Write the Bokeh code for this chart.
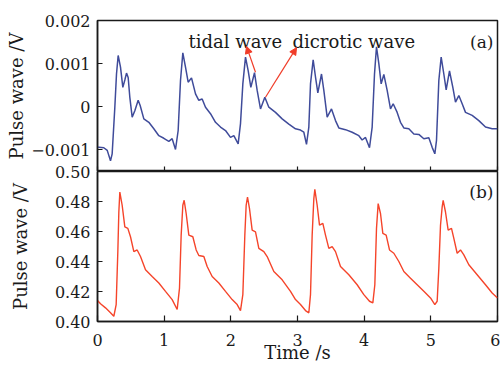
from bokeh.plotting import figure
from bokeh.layouts import column
from bokeh.models import Range1d, FixedTicker, Label, Arrow, NormalHead
from bokeh.embed import file_html
from bokeh.resources import INLINE

# ---- data ----
time_a = [0.00, 0.02, 0.095, 0.146, 0.195, 0.22, 0.26, 0.285, 0.31, 0.345, 0.38, 0.41, 0.435, 0.46,
          0.485, 0.52, 0.56, 0.61, 0.64, 0.695, 0.77, 0.845, 0.92, 0.995, 1.07, 1.12, 1.17, 1.21,
          1.245, 1.28, 1.32, 1.36, 1.41, 1.47, 1.52, 1.57, 1.62, 1.695, 1.77, 1.845, 1.92, 1.995,
          2.045, 2.11, 2.145, 2.18, 2.22, 2.26, 2.30, 2.355, 2.395, 2.445, 2.51, 2.57, 2.67, 2.77,
          2.87, 2.97, 3.045, 3.095, 3.135, 3.17, 3.195, 3.235, 3.27, 3.305, 3.36, 3.395, 3.445,
          3.51, 3.57, 3.62, 3.72, 3.82, 3.92, 3.97, 4.02, 4.08, 4.12, 4.155, 4.185, 4.22, 4.255,
          4.295, 4.345, 4.395, 4.435, 4.495, 4.545, 4.595, 4.67, 4.745, 4.82, 4.895, 4.97, 5.02,
          5.06, 5.085, 5.12, 5.155, 5.195, 5.23, 5.28, 5.33, 5.37, 5.42, 5.47, 5.52, 5.62, 5.72,
          5.82, 5.92, 6.00]
pulse_a = [-0.93e-3, -0.94e-3, -0.95e-3, -1.01e-3, -1.25e-3, -1.09e-3, -0.01e-3, 0.76e-3, 1.19e-3,
           0.92e-3, 0.45e-3, 0.62e-3, 0.78e-3, 0.68e-3, 0.22e-3, -0.24e-3, -0.09e-3, 0.15e-3,
           0.03e-3, -0.28e-3, -0.36e-3, -0.51e-3, -0.67e-3, -0.73e-3, -0.80e-3, -0.74e-3,
           -0.99e-3, -0.55e-3, 0.61e-3, 1.25e-3, 0.92e-3, 0.57e-3, 0.67e-3, 0.30e-3, 0.15e-3,
           0.18e-3, -0.01e-3, -0.16e-3, -0.36e-3, -0.47e-3, -0.55e-3, -0.71e-3, -0.67e-3,
           -0.86e-3, -0.39e-3, 0.53e-3, 1.15e-3, 0.84e-3, 0.45e-3, 0.79e-3, 0.38e-3, -0.05e-3,
           0.22e-3, -0.01e-3, -0.13e-3, -0.28e-3, -0.40e-3, -0.51e-3, -0.54e-3, -0.59e-3,
           -0.87e-3, -0.47e-3, 0.53e-3, 1.09e-3, 0.69e-3, 0.32e-3, 0.76e-3, 0.38e-3, -0.24e-3,
           -0.05e-3, -0.32e-3, -0.49e-3, -0.53e-3, -0.59e-3, -0.67e-3, -0.77e-3, -0.71e-3,
           -0.95e-3, -0.47e-3, 0.76e-3, 1.39e-3, 1.00e-3, 0.53e-3, 0.75e-3, 0.38e-3, -0.05e-3,
           0.07e-3, -0.13e-3, -0.36e-3, -0.49e-3, -0.51e-3, -0.63e-3, -0.64e-3, -0.74e-3,
           -0.72e-3, -0.94e-3, -1.09e-3, -0.78e-3, 0.61e-3, 1.15e-3, 0.76e-3, 0.39e-3, 0.83e-3,
           0.45e-3, 0.11e-3, 0.26e-3, 0.07e-3, -0.13e-3, -0.20e-3, -0.32e-3, -0.47e-3,
           -0.51e-3, -0.51e-3]

time_b = [0.00, 0.045, 0.12, 0.195, 0.245, 0.28, 0.305, 0.32, 0.335, 0.37, 0.41, 0.455, 0.495,
          0.545, 0.595, 0.645, 0.72, 0.82, 0.92, 1.02, 1.12, 1.195, 1.23, 1.255, 1.28, 1.30, 1.33,
          1.37, 1.43, 1.48, 1.52, 1.595, 1.645, 1.72, 1.82, 1.92, 2.02, 2.095, 2.145, 2.18, 2.21,
          2.23, 2.25, 2.28, 2.32, 2.37, 2.42, 2.495, 2.545, 2.645, 2.77, 2.895, 2.97, 3.045, 3.12,
          3.17, 3.195, 3.22, 3.245, 3.26, 3.295, 3.33, 3.38, 3.42, 3.47, 3.52, 3.57, 3.645, 3.77,
          3.895, 3.995, 4.08, 4.13, 4.16, 4.185, 4.21, 4.245, 4.28, 4.33, 4.38, 4.445, 4.52,
          4.595, 4.695, 4.795, 4.895, 4.995, 5.06, 5.095, 5.12, 5.145, 5.17, 5.185, 5.22, 5.26,
          5.31, 5.345, 5.395, 5.445, 5.495, 5.57, 5.695, 5.82, 5.92, 6.00]
pulse_b = [0.4140, 0.4118, 0.4091, 0.4058, 0.4035, 0.4113, 0.4466, 0.4730, 0.4863, 0.4775, 0.4631,
           0.4621, 0.4565, 0.4466, 0.4477, 0.4433, 0.4345, 0.4300, 0.4257, 0.4201, 0.4146, 0.4080,
           0.4223, 0.4576, 0.4775, 0.4808, 0.4720, 0.4576, 0.4565, 0.4477, 0.4440, 0.4433, 0.4367,
           0.4300, 0.4257, 0.4201, 0.4146, 0.4113, 0.4073, 0.4179, 0.4576, 0.4775, 0.4830, 0.4753,
           0.4609, 0.4598, 0.4488, 0.4466, 0.4433, 0.4333, 0.4278, 0.4201, 0.4146, 0.4113, 0.4073,
           0.4058, 0.4179, 0.4576, 0.4819, 0.4881, 0.4775, 0.4642, 0.4654, 0.4576, 0.4488, 0.4499,
           0.4466, 0.4367, 0.4312, 0.4245, 0.4179, 0.4135, 0.4124, 0.4245, 0.4621, 0.4786, 0.4720,
           0.4587, 0.4576, 0.4477, 0.4455, 0.4400, 0.4333, 0.4289, 0.4245, 0.4201, 0.4157, 0.4113,
           0.4135, 0.4356, 0.4642, 0.4764, 0.4808, 0.4730, 0.4609, 0.4621, 0.4554, 0.4455, 0.4477,
           0.4444, 0.4378, 0.4312, 0.4245, 0.4190, 0.4157]

x_ticks = [0, 1, 2, 3, 4, 5, 6]
x_tick_labels = ["0", "1", "2", "3", "4", "5", "6"]
ya_ticks = [-0.001, 0, 0.001, 0.002]
ya_tick_labels = ["\u22120.001", "0", "0.001", "0.002"]
yb_ticks = [0.40, 0.42, 0.44, 0.46, 0.48, 0.50]
yb_tick_labels = ["0.40", "0.42", "0.44", "0.46", "0.48", "0.50"]

FONT = "DejaVu Serif"
TXT = "#1a1a1a"
W = 500
LEFT = 97
OVERLAP = 12


def style(p):
    p.grid.visible = False
    p.outline_line_color = TXT
    p.outline_line_width = 1.5
    p.background_fill_color = "white"
    for ax in p.axis:
        ax.axis_line_color = TXT
        ax.axis_line_width = 1.5
        ax.major_tick_line_color = TXT
        ax.major_tick_line_width = 1.2
        ax.major_tick_in = 5
        ax.major_tick_out = 0
        ax.minor_tick_line_color = None
        ax.major_label_text_font = FONT
        ax.major_label_text_font_size = "16px"
        ax.major_label_text_color = TXT
        ax.axis_label_text_font = FONT
        ax.axis_label_text_font_size = "18px"
        ax.axis_label_text_font_style = "normal"
        ax.axis_label_text_color = TXT


# ---- top panel (a) ----
p1 = figure(width=W, height=171, x_range=Range1d(0, 6), y_range=Range1d(-0.0015, 0.002),
            output_backend="svg", toolbar_location=None,
            min_border_left=LEFT, min_border_right=3, min_border_top=20, min_border_bottom=0)
p1.border_fill_color = "white"
p1.line(time_a, pulse_a, line_color="#3f4b9a", line_width=1.5)
style(p1)
p1.xaxis.ticker = FixedTicker(ticks=x_ticks)
p1.xaxis.major_label_text_font_size = "0px"
p1.xaxis.major_label_standoff = 0
p1.xaxis.major_label_overrides = {t: "" for t in x_ticks}
p1.yaxis.ticker = FixedTicker(ticks=ya_ticks)
p1.yaxis.major_label_overrides = dict(zip(ya_ticks, ya_tick_labels))
p1.yaxis.major_label_standoff = 7
p1.yaxis.axis_label = "Pulse wave /V"
p1.yaxis.axis_label_standoff = 1

p1.add_layout(Label(x=1.365, y=0.00151, text="tidal wave", text_font=FONT,
                    text_font_size="18px", text_color=TXT, text_baseline="alphabetic"))
p1.add_layout(Label(x=2.925, y=0.00151, text="dicrotic wave", text_font=FONT,
                    text_font_size="18px", text_color=TXT, text_baseline="alphabetic"))
p1.add_layout(Label(x=5.94, y=0.00151, text="(a)", text_font=FONT, text_align="right",
                    text_font_size="17px", text_color=TXT, text_baseline="alphabetic"))
ARROW_C = "#f03c28"
p1.add_layout(Arrow(x_start=2.37, y_start=0.0008, x_end=2.235, y_end=0.0014,
                    line_color=ARROW_C, line_width=1.2,
                    end=NormalHead(size=7, fill_color=ARROW_C, line_color=ARROW_C)))
p1.add_layout(Arrow(x_start=2.52, y_start=0.00022, x_end=2.985, y_end=0.00137,
                    line_color=ARROW_C, line_width=1.2,
                    end=NormalHead(size=7, fill_color=ARROW_C, line_color=ARROW_C)))

# ---- bottom panel (b) ----
p2 = figure(width=W, height=OVERLAP + 151 + 43, x_range=p1.x_range, y_range=Range1d(0.40, 0.50),
            output_backend="svg", toolbar_location=None,
            min_border_left=LEFT, min_border_right=3, min_border_top=OVERLAP, min_border_bottom=43)
p2.border_fill_color = None
p2.styles = {"margin-top": f"-{OVERLAP}px"}
p2.line(time_b, pulse_b, line_color="#f5442a", line_width=1.4)
style(p2)
p2.xaxis.ticker = FixedTicker(ticks=x_ticks)
p2.xaxis.major_label_overrides = dict(zip(x_ticks, x_tick_labels))
p2.xaxis.major_label_standoff = 12
p2.xaxis.axis_label = "Time /s"
p2.xaxis.axis_label_standoff = -7
p2.xaxis.major_tick_in = 6
p2.yaxis.ticker = FixedTicker(ticks=yb_ticks)
p2.yaxis.major_label_overrides = dict(zip(yb_ticks, yb_tick_labels))
p2.yaxis.major_label_standoff = 7
p2.yaxis.axis_label = "Pulse wave /V"
p2.yaxis.axis_label_standoff = 21

p2.add_layout(Label(x=5.94, y=0.4863, text="(b)", text_font=FONT, text_align="right",
                    text_font_size="17px", text_color=TXT, text_baseline="alphabetic"))

layout = column(p1, p2, spacing=0)
open("out.html", "w").write(file_html(layout, INLINE))
